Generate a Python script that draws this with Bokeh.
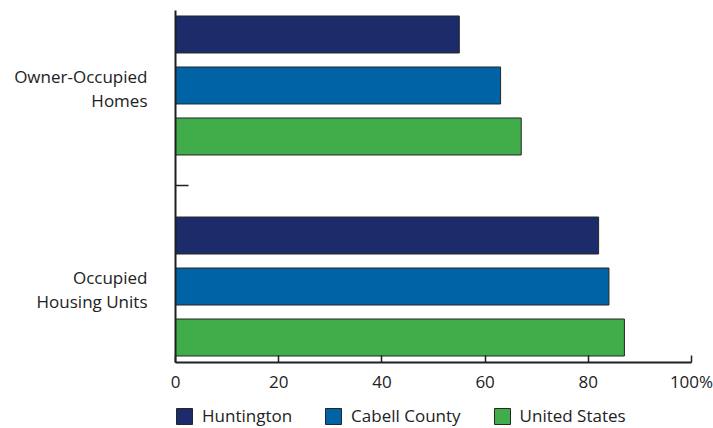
from bokeh.plotting import figure
from bokeh.layouts import column
from bokeh.models import Range1d, FixedTicker, Legend, LegendItem, ColumnDataSource, LinearAxis
from bokeh.embed import file_html
from bokeh.resources import INLINE

categories = ["Occupied\nHousing Units", "Owner-Occupied\nHomes"]
series = ["Huntington", "Cabell County", "United States"]
huntington = [82, 55]
cabell = [84, 63]
united_states = [87, 67]
x_ticks = [0, 20, 40, 60, 80, 100]
x_tick_labels = ["0", "20", "40", "60", "80", "100%"]

colors = ["#1c2c6b", "#0063a6", "#41ad4a"]
TXT = "#222222"
FONT = "Open Sans"
OUTLINE = "#262626"

p = figure(width=713, height=400, output_backend="svg", toolbar_location=None,
           x_range=Range1d(0, 100), y_range=Range1d(-0.378, 1.373),
           min_border_left=175, min_border_right=22, min_border_top=10, min_border_bottom=38)
p.outline_line_color = None
p.grid.visible = False

offset = 0.2537
height = 0.184
for i, (name, vals) in enumerate(zip(series, [huntington, cabell, united_states])):
    ys = [g + offset * (1 - i) for g in range(len(categories))]
    src = ColumnDataSource(dict(y=ys, right=vals))
    p.hbar(y="y", left=0, right="right", height=height, source=src,
           fill_color=colors[i], line_color=OUTLINE, line_width=1)

# x axis
xa = p.xaxis[0]
xa.ticker = FixedTicker(ticks=x_ticks)
xa.major_label_overrides = {t: l for t, l in zip(x_ticks, x_tick_labels)}
xa.major_tick_in = 7
xa.major_tick_out = 0
xa.minor_tick_line_color = None
xa.axis_line_width = 2
xa.axis_line_color = "#231f20"
xa.major_tick_line_color = "#231f20"
xa.major_tick_line_width = 1.5
xa.major_label_text_font_size = "17px"
xa.major_label_text_font = FONT
xa.major_label_text_color = TXT
xa.major_label_standoff = 7

# y axis (separator tick only)
ya = p.yaxis[0]
ya.ticker = FixedTicker(ticks=[0.5])
ya.major_label_overrides = {0.5: ""}
ya.major_label_text_font_size = "1px"
ya.major_label_standoff = 0
ya.major_tick_in = 13
ya.major_tick_out = 0
ya.minor_tick_line_color = None
ya.axis_line_width = 2
ya.axis_line_color = "#231f20"
ya.major_tick_line_color = "#231f20"
ya.major_tick_line_width = 1.5

# category label axis (labels sit a few pixels below the group centre)
label_shift = 3 / 201
label_ticks = [g - label_shift for g in range(len(categories))]
ca = LinearAxis(ticker=FixedTicker(ticks=label_ticks),
                major_label_overrides={t: c for t, c in zip(label_ticks, categories)},
                axis_line_color=None, major_tick_line_color=None, minor_tick_line_color=None,
                major_label_text_font=FONT, major_label_text_font_size="17px",
                major_label_text_line_height=1.05,
                major_label_text_color=TXT, major_label_standoff=22)
p.add_layout(ca, "left")

# legend strip (frame aligned with the chart frame by the column layout)
lg = figure(width=713, height=28, output_backend="svg", toolbar_location=None,
            x_range=Range1d(0, 1), y_range=Range1d(0, 1),
            min_border_left=175, min_border_right=22, min_border_top=0, min_border_bottom=0)
lg.axis.visible = False
lg.grid.visible = False
lg.outline_line_color = None
dummies = []
for c in colors:
    # zero-size proxy glyphs, hidden under the first legend swatch
    dummies.append(lg.hbar(y=[0.5], left=[0], right=[0], height=0,
                           fill_color=c, line_color=OUTLINE, line_width=1))
legend = Legend(items=[LegendItem(label=s, renderers=[r]) for s, r in zip(series, dummies)],
                orientation="horizontal", location=(-1, 1),
                glyph_width=20, glyph_height=20, label_standoff=8, spacing=31,
                padding=0, margin=0, border_line_color=None, background_fill_alpha=0,
                label_text_font=FONT, label_text_font_size="17px", label_text_color=TXT)
lg.add_layout(legend, "center")

layout = column(p, lg, spacing=0)
open("out.html", "w").write(file_html(layout, INLINE))
